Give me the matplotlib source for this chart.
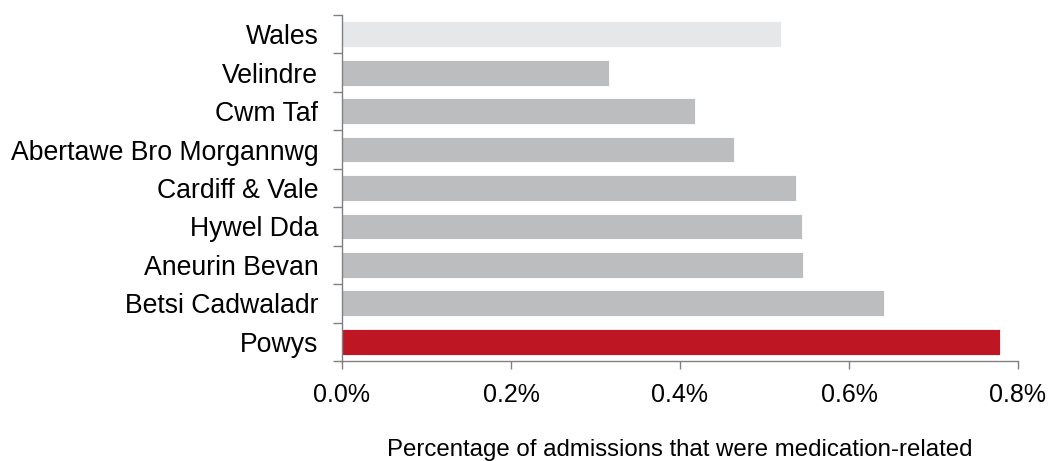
import matplotlib.pyplot as plt
import numpy as np

plt.rcParams['font.family'] = ['Liberation Sans', 'DejaVu Sans']

# regiões (de cima para baixo) e percentagens
regioes = ['Wales', 'Velindre', 'Cwm Taf', 'Abertawe Bro Morgannwg', 'Cardiff & Vale',
           'Hywel Dda', 'Aneurin Bevan', 'Betsi Cadwaladr', 'Powys']
percentagens = [0.520, 0.316, 0.418, 0.464, 0.537, 0.544, 0.546, 0.641, 0.779]
cores = ['#E6E7E8'] + ['#BCBDBF'] * 7 + ['#BE1622']

fig = plt.figure(figsize=(10.5, 4.61), dpi=100)
ax = fig.add_axes([0.3257, 0.2169, 0.6438, 0.7506])

y = np.arange(len(regioes))
ax.barh(y, percentagens, height=0.67, color=cores, edgecolor='white', linewidth=0.6)

ax.set_ylim(len(regioes) - 0.5, -0.5)
ax.set_xlim(0, 0.8)

# ticks do eixo y nas fronteiras das categorias, rótulos no centro
ax.set_yticks(np.arange(len(regioes) + 1) - 0.5)
ax.set_yticklabels([])
ax.set_yticks(y, minor=True)
ax.set_yticklabels(regioes, minor=True, fontsize=19.2)
ax.tick_params(axis='y', which='major', length=6.5, width=1, color='#808080', direction='out')
ax.tick_params(axis='y', which='minor', length=0, pad=17)

ax.set_xticks([0, 0.2, 0.4, 0.6, 0.8])
ax.set_xticklabels(['0.0%', '0.2%', '0.4%', '0.6%', '0.8%'], fontsize=18)
ax.tick_params(axis='x', length=5.8, width=1, color='#808080', direction='out', pad=10)

ax.set_xlabel('Percentage of admissions that were medication-related', fontsize=17.3, labelpad=23)

for lado in ['top', 'right']:
    ax.spines[lado].set_visible(False)
for lado in ['left', 'bottom']:
    ax.spines[lado].set_color('#808080')
    ax.spines[lado].set_linewidth(1)

plt.savefig('out.png', dpi=100)
